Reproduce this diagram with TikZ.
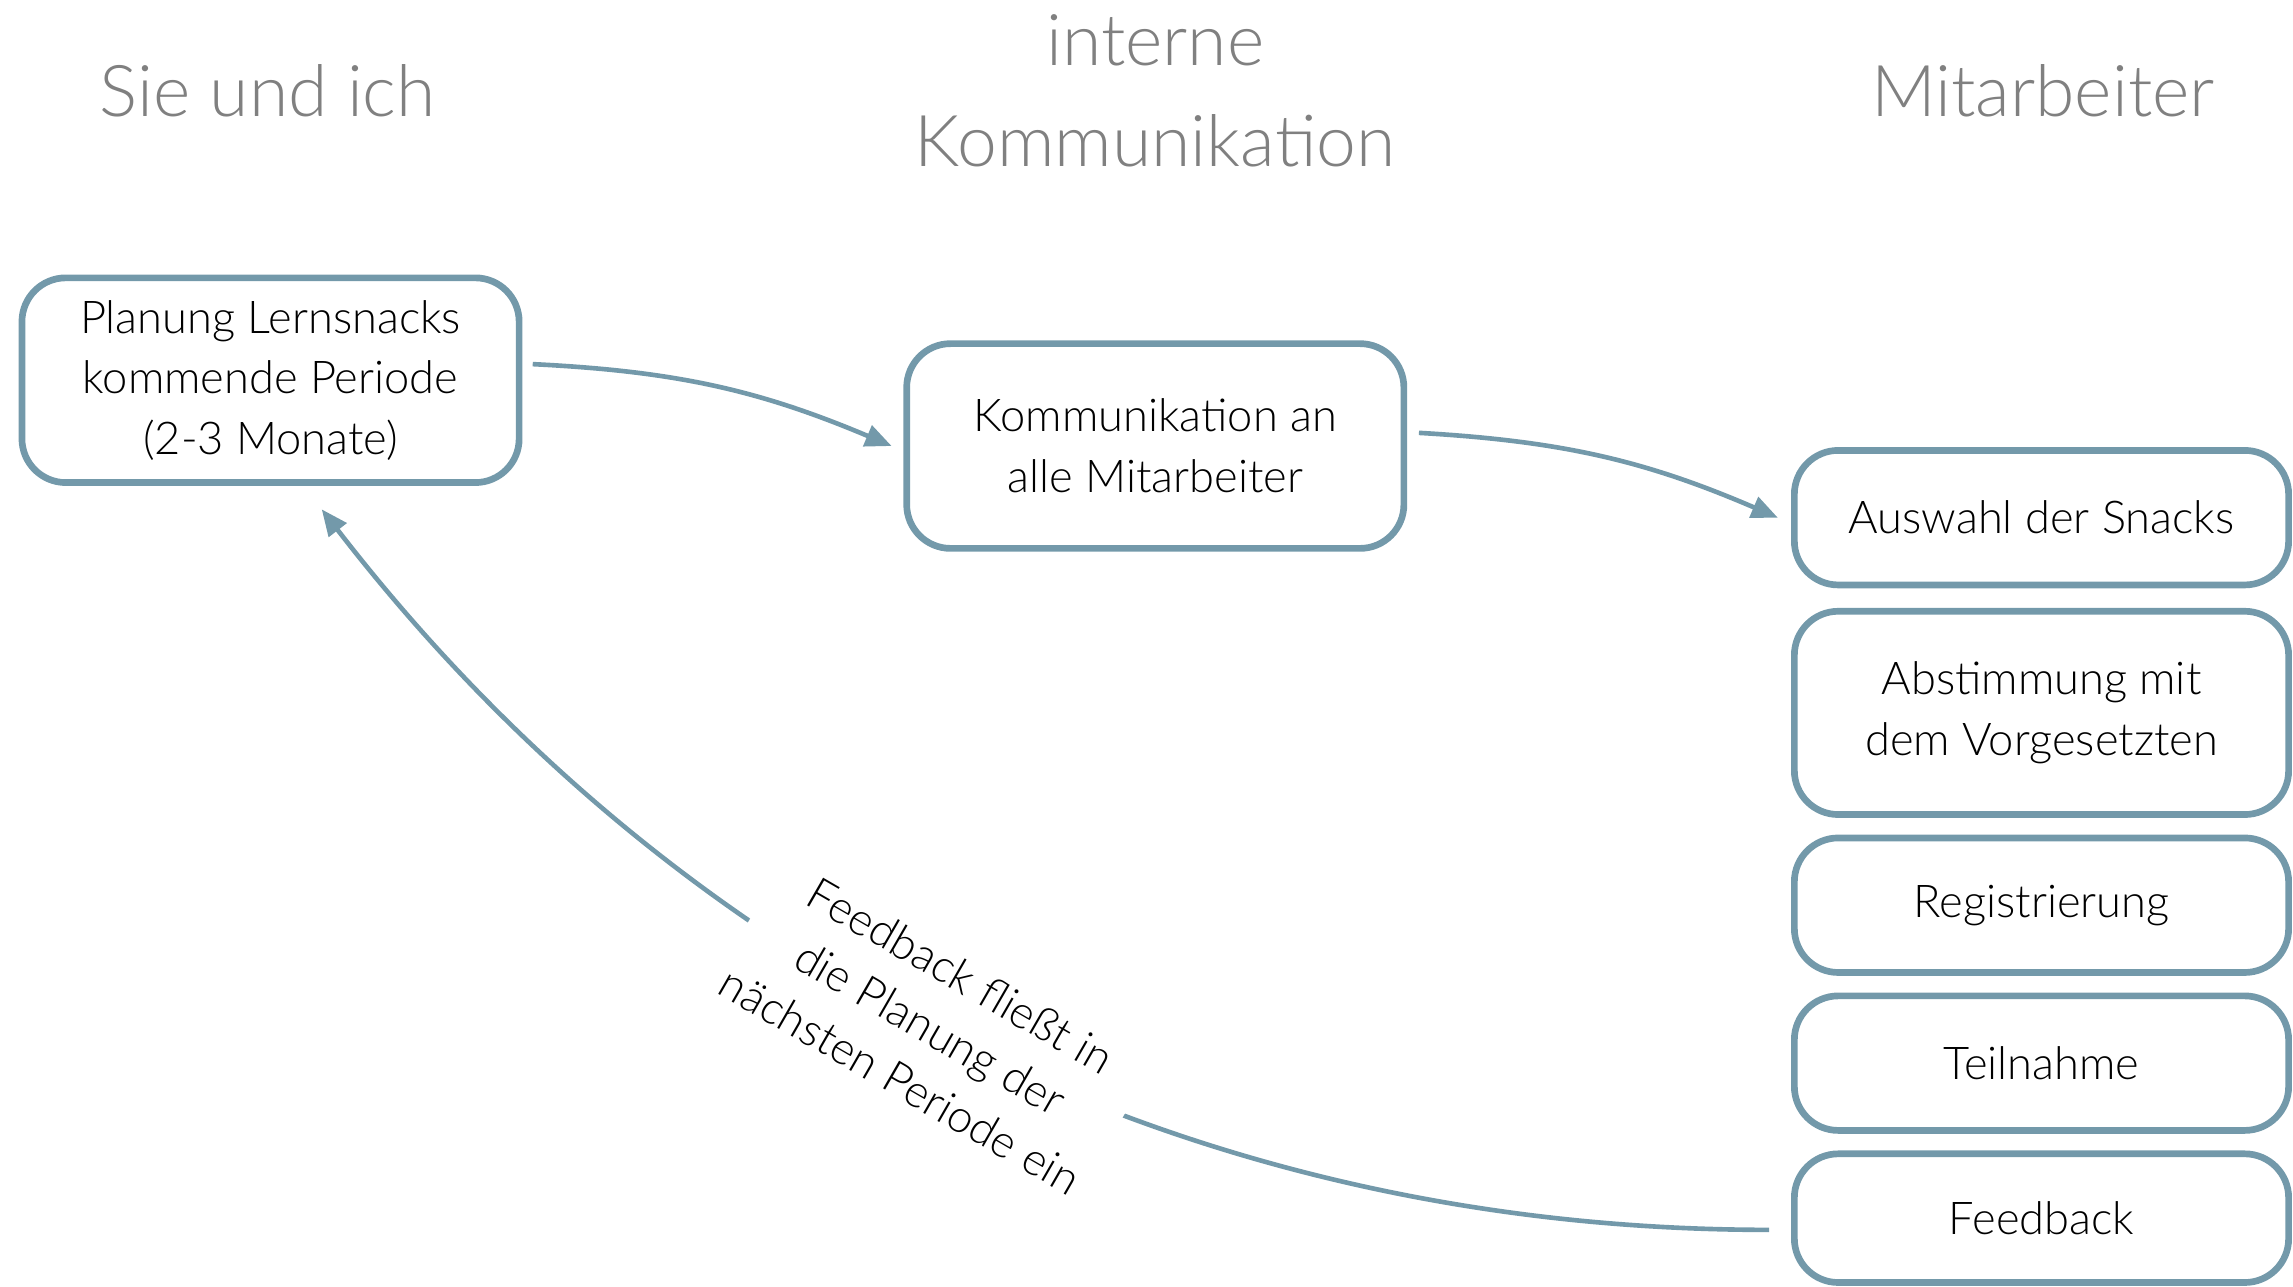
\documentclass[tikz,border=0pt]{standalone}
\usepackage{fontspec}
\IfFontExistsTF{Lato Light}{\setmainfont{Lato Light}}{\setmainfont{Lato}}
\usetikzlibrary{arrows.meta}
\definecolor{boxblue}{RGB}{115,153,170}
\definecolor{headgray}{RGB}{128,128,128}
\newcommand{\stagefont}{\fontsize{8.8pt}{11.8pt}\selectfont}
\newcommand{\headingfont}{\fontsize{13.9pt}{19.6pt}\selectfont}
\begin{document}
\begin{tikzpicture}[
    stage/.style={draw=boxblue, line width=1.3pt, rounded corners=0.3cm, fill=white, align=center, minimum width=3.38cm, inner sep=0pt, font=\stagefont},
    heading/.style={text=headgray, align=center, font=\headingfont},
    flow/.style={draw=boxblue, line width=0.9pt, -{Triangle[length=0.18cm,width=0.15cm]}}
]
    \useasboundingbox (0,0) rectangle (15.68,8.80);

    % Column headings
    \node[heading] (hsie) at (1.83,8.18) {Sie und ich};
    \node[heading] (hintern) at (7.90,8.18) {interne\\Kommunikation};
    \node[heading] (hmit) at (13.97,8.18) {Mitarbeiter};

    % Planning and communication
    \node[stage, minimum width=3.40cm, minimum height=1.40cm] (plan) at (1.85,6.20) {Planung Lernsnacks\\kommende Periode\\(2-3 Monate)};
    \node[stage, minimum width=3.40cm, minimum height=1.40cm] (komm) at (7.90,5.75) {Kommunikation an\\alle Mitarbeiter};

    % Steps of the employees
    \node[stage, minimum height=0.92cm] (auswahl) at (13.96,5.26) {Auswahl der Snacks};
    \node[stage, minimum height=1.39cm] (abst) at (13.96,3.925) {Abstimmung mit\\dem Vorgesetzten};
    \node[stage, minimum height=0.92cm] (reg) at (13.96,2.61) {Registrierung};
    \node[stage, minimum height=0.92cm] (teil) at (13.96,1.53) {Teilnahme};
    \node[stage, minimum height=0.88cm] (fb) at (13.96,0.47) {Feedback};

    % Arrows between the columns
    \draw[flow] ([xshift=0.07cm,yshift=0.11cm]plan.east) to[bend left=10] ([xshift=-0.08cm]komm.west);
    \draw[flow] ([xshift=0.08cm,yshift=0.09cm]komm.east) to[bend left=10] ([xshift=-0.09cm]auswahl.west);

    % Feedback back into the planning
    \draw[flow] ([xshift=-0.15cm,yshift=-0.08cm]fb.west) .. controls +(-4,0) and +(2.44,-3.16) .. ([xshift=0.35cm,yshift=-0.16cm]plan.south)
        node[pos=0.52, rotate=-30, fill=white, align=center, inner sep=0.05cm, font=\stagefont] (fbtext) {Feedback fließt in\\die Planung der\\nächsten Periode ein};
\end{tikzpicture}
\end{document}
